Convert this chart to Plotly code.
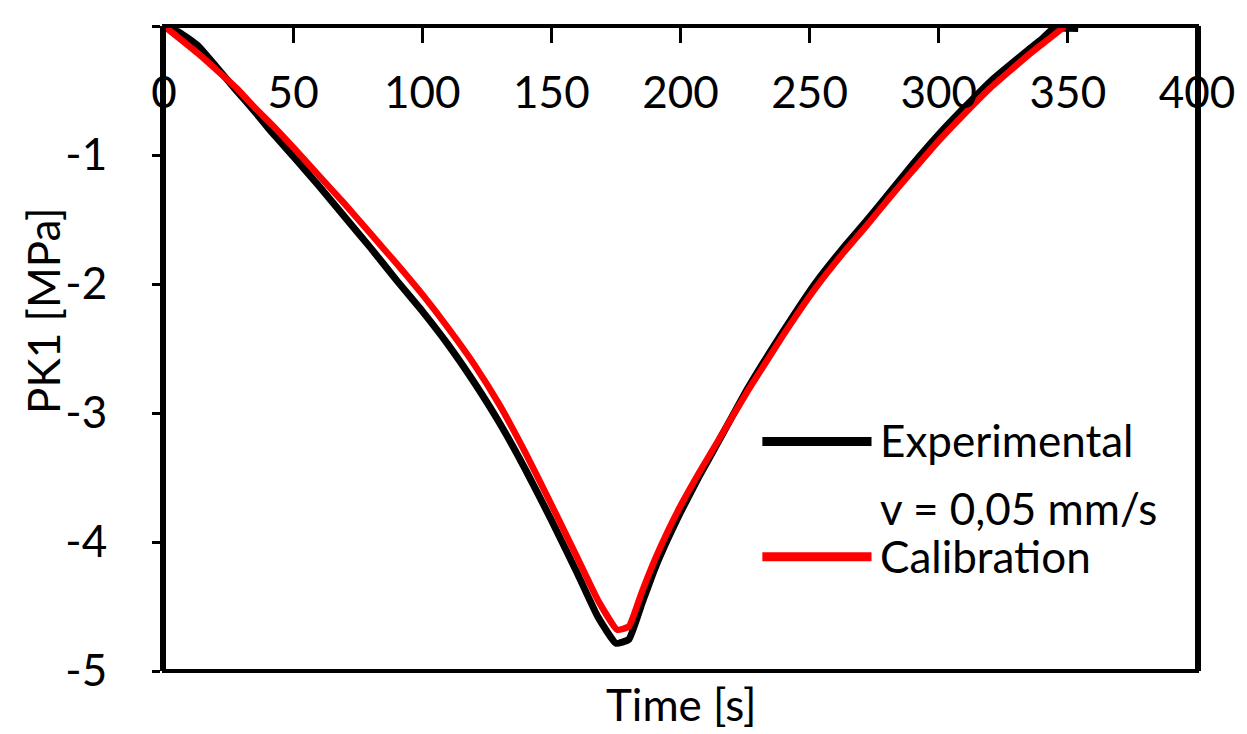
import plotly.graph_objects as go

# ---- data ----
time_exp = [0, 6, 13, 20, 28, 35, 42, 50, 60, 70, 80, 90, 100, 110, 120, 130, 140, 150,
            160, 168, 175, 180, 185, 190, 195, 200, 207, 215, 226, 240, 252, 263,
            272, 281, 290, 300, 310, 320, 335, 340, 344.5, 354]
pk1_exp = [0, -0.05, -0.15, -0.31, -0.50, -0.66, -0.83, -1.01, -1.24, -1.48, -1.72, -1.97,
           -2.21, -2.47, -2.76, -3.08, -3.44, -3.83, -4.24, -4.58, -4.785, -4.755, -4.48,
           -4.21, -3.98, -3.77, -3.50, -3.21, -2.81, -2.36, -2.00, -1.72, -1.51,
           -1.29, -1.07, -0.84, -0.63, -0.43, -0.18, -0.10, -0.02, -0.02]

time_cal = [0, 13, 28, 35, 42, 50, 60, 70, 80, 90, 100, 110, 120, 130, 140, 150, 160, 168,
            175.5, 180, 185, 190, 195, 200, 207, 215, 226, 240, 252, 263, 272, 281,
            290, 300, 310, 320, 335, 342, 349]
pk1_cal = [0, -0.21, -0.48, -0.63, -0.77, -0.94, -1.16, -1.38, -1.61, -1.84, -2.08, -2.34,
           -2.62, -2.94, -3.31, -3.71, -4.12, -4.45, -4.68, -4.655, -4.39, -4.14,
           -3.92, -3.72, -3.47, -3.20, -2.83, -2.39, -2.04, -1.76, -1.55, -1.33, -1.12,
           -0.89, -0.68, -0.48, -0.22, -0.11, 0]

name_exp = "Experimental"
note_exp = "v = 0,05 mm/s"
name_cal = "Calibration"

x_ticks = [0, 50, 100, 150, 200, 250, 300, 350, 400]
y_ticks = [0, -1, -2, -3, -4, -5]
y_ticktext = ["0", "-1", "-2", "-3", "-4", "-5"]

x_title = "Time [s]"
y_title = "PK1 [MPa]"

FONT = "Lato, Calibri, 'Open Sans', sans-serif"
FS = 44

fig = go.Figure()
fig.add_trace(go.Scatter(x=time_exp, y=pk1_exp, mode="lines", name=name_exp,
                         line=dict(color="black", width=7, shape="spline", smoothing=0.4),
                         showlegend=False))
fig.add_trace(go.Scatter(x=time_cal, y=pk1_cal, mode="lines", name=name_cal,
                         line=dict(color="#ff0000", width=6.5, shape="spline", smoothing=0.4),
                         showlegend=False))

L, R, T, B = 164, 42, 26, 63
W, H = 1247, 734
pw, ph = W - L - R, H - T - B

def px(xp):
    return (xp - L) / pw

def py(yp):
    return (H - B - yp) / ph

fig.update_layout(
    width=W, height=H,
    margin=dict(l=L, r=R, t=T, b=B),
    paper_bgcolor="white", plot_bgcolor="white",
    font=dict(family=FONT, size=FS, color="black"),
    xaxis=dict(range=[0, 400], tickvals=x_ticks, ticktext=[str(v) for v in x_ticks],
               side="bottom", anchor="free", position=1,
               ticks="outside", ticklen=15, tickwidth=3, tickcolor="black",
               showline=True, linewidth=4, linecolor="black",
               showgrid=False, zeroline=False, ticklabelstandoff=12,
               tickfont=dict(family=FONT, size=FS, color="black")),
    yaxis=dict(range=[-5, 0], tickvals=y_ticks, ticktext=y_ticktext,
               ticks="outside", ticklen=8, tickwidth=3, tickcolor="black",
               showline=True, linewidth=4, linecolor="black", mirror=True,
               showgrid=False, zeroline=False, ticklabelstandoff=36,
               tickfont=dict(family=FONT, size=FS, color="black")),
    showlegend=False,
)

# frame
fig.add_shape(type="rect", xref="x domain", yref="y domain", x0=0, x1=1, y0=0, y1=1,
              line=dict(color="black", width=4), fillcolor="rgba(0,0,0,0)", layer="above")

# legend (drawn manually to reproduce the long sample lines)
for yy, col in [(441.5, "black"), (556.7, "#ff0000")]:
    fig.add_shape(type="line", xref="paper", yref="paper",
                  x0=px(767), x1=px(877), y0=py(yy), y1=py(yy),
                  line=dict(color=col, width=9))
for txt, yy in [(name_exp, 440), (note_exp, 508), (name_cal, 556)]:
    fig.add_annotation(text=txt, xref="paper", yref="paper", x=px(884), y=py(yy),
                       xanchor="left", yanchor="middle", showarrow=False,
                       font=dict(family=FONT, size=FS, color="black"))

# axis titles
fig.add_annotation(text=x_title, xref="paper", yref="paper", x=px(685), y=py(704),
                   xanchor="center", yanchor="middle", showarrow=False,
                   font=dict(family=FONT, size=FS, color="black"))
fig.add_annotation(text=y_title, xref="paper", yref="paper", x=px(42), y=py(311),
                   xanchor="center", yanchor="middle", showarrow=False, textangle=-90,
                   font=dict(family=FONT, size=FS, color="black"))

fig.write_html("out.html", config={"displayModeBar": False},
               post_script="document.body.style.margin='0';")
